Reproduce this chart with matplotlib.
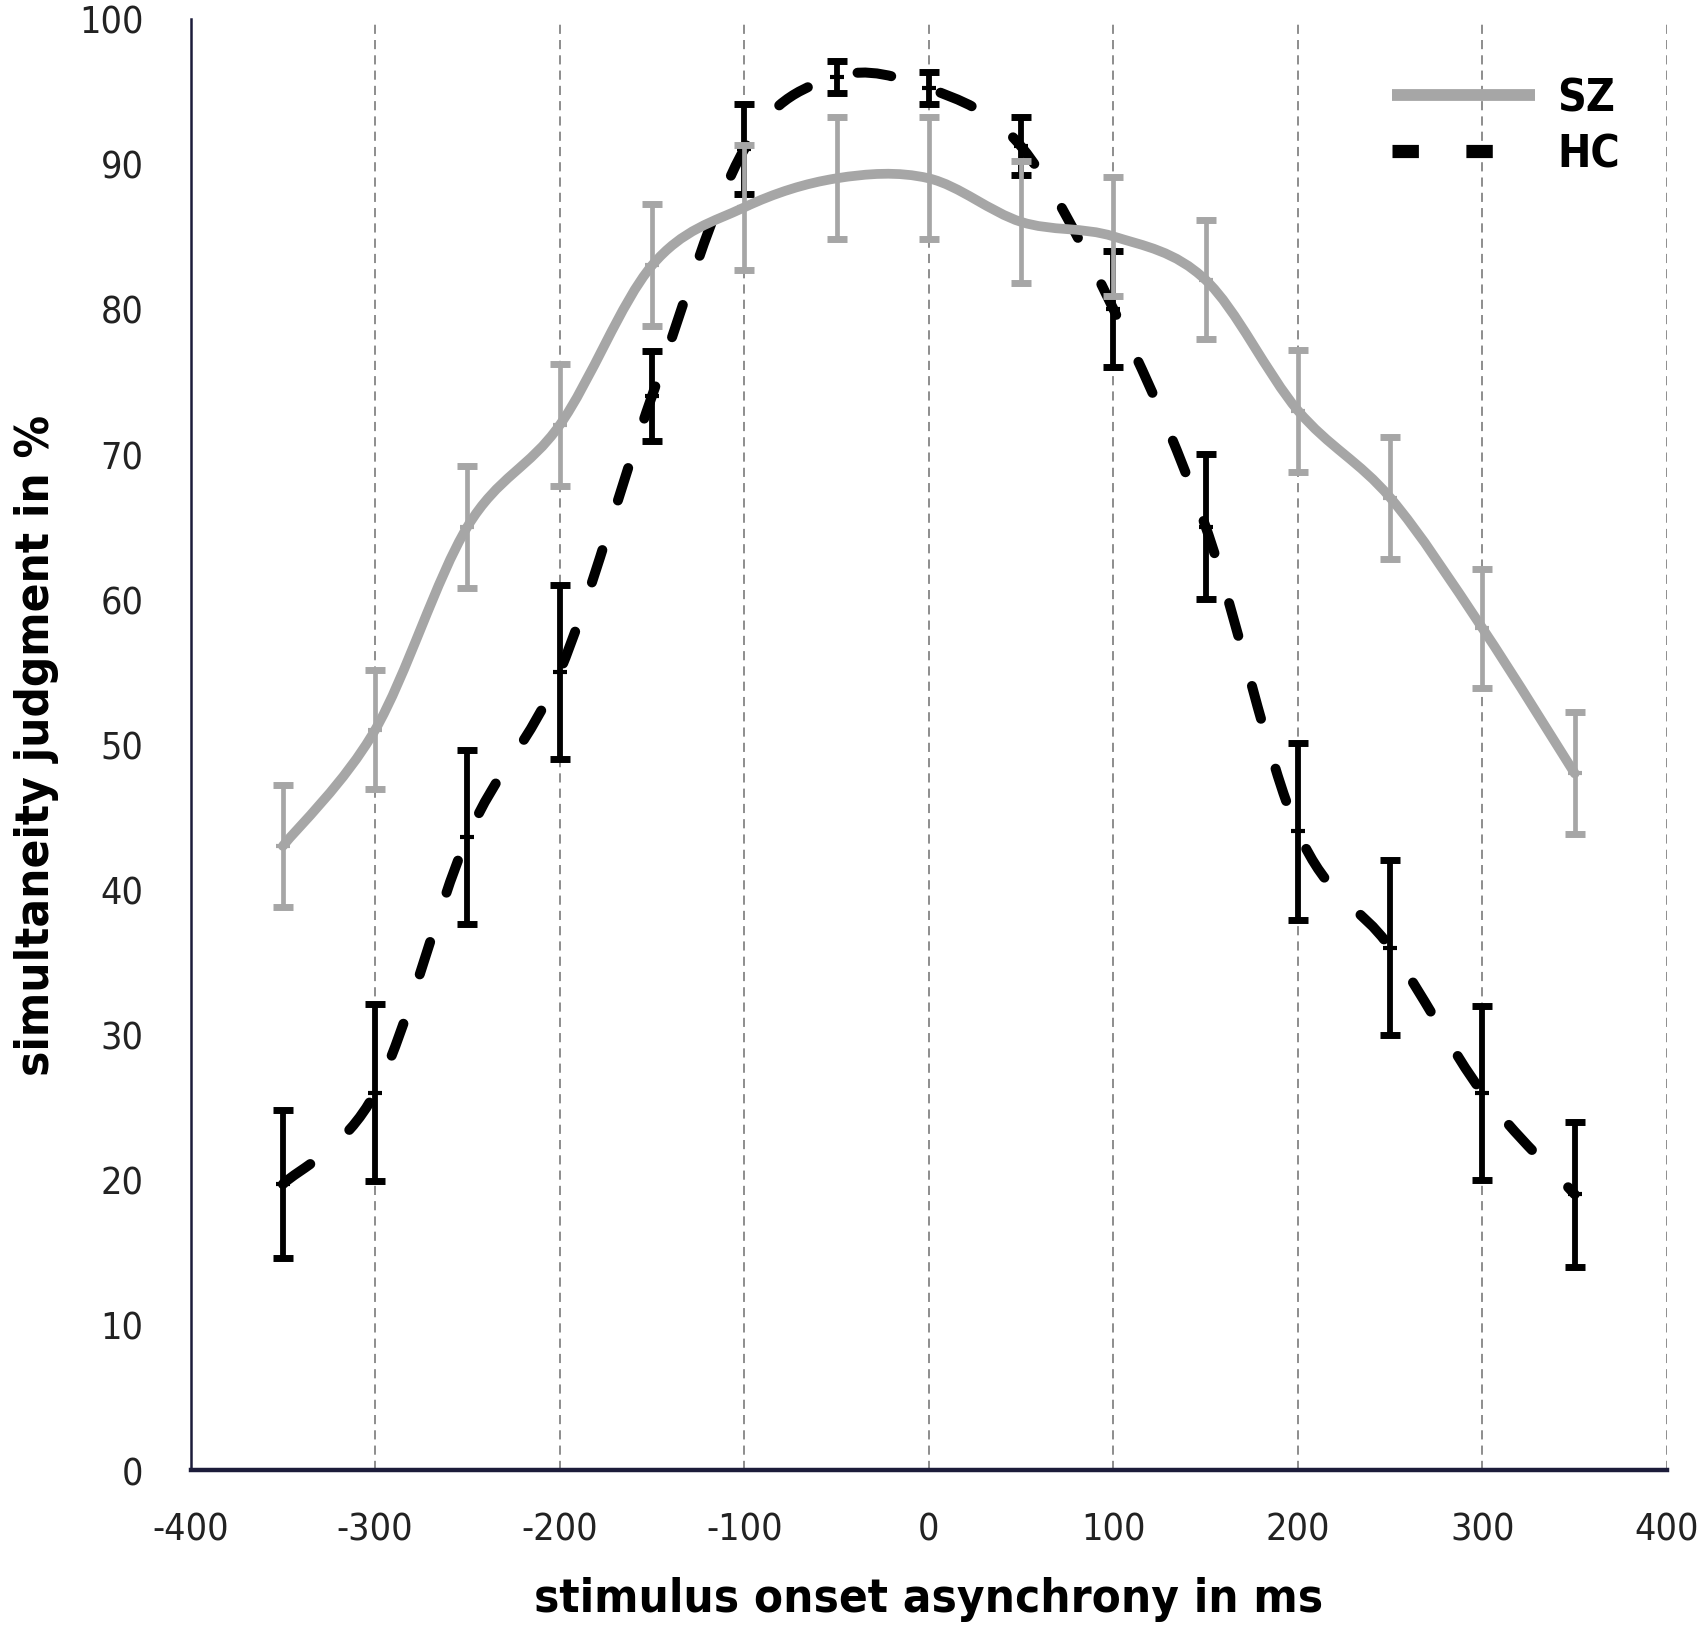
# Simultaneity judgment curves, SZ vs HC, with error bars.

import numpy as np
from matplotlib import pyplot as plt
from matplotlib.path import Path
from matplotlib.patches import PathPatch
from matplotlib.lines import Line2D
from matplotlib import font_manager as fm

soa = [-350, -300, -250, -200, -150, -100, -50, 0, 50, 100, 150, 200, 250, 300, 350]

sz_mean = [43, 51, 65, 72, 83, 87, 89, 89, 86, 85, 82, 73, 67, 58, 48]
sz_err = [4.2, 4.1, 4.2, 4.2, 4.2, 4.3, 4.2, 4.2, 4.2, 4.1, 4.1, 4.2, 4.2, 4.1, 4.2]

hc_mean = [19.7, 26, 43.6, 55, 74, 91, 96, 95.2, 91.2, 80, 65, 44, 36, 26, 19]
hc_err = [5.1, 6.1, 6.0, 6.0, 3.1, 3.1, 1.1, 1.1, 2.0, 4.0, 5.0, 6.1, 6.0, 6.0, 5.0]

xticks = [-400, -300, -200, -100, 0, 100, 200, 300, 400]
yticks = [0, 10, 20, 30, 40, 50, 60, 70, 80, 90, 100]

GRAY = "#a6a6a6"
BLACK = "#000000"

# a narrow face, closest to the condensed look of the original
names = {f.name for f in fm.fontManager.ttflist}
if "Liberation Sans Narrow" in names:
    TXT, STRETCH = ["Liberation Sans Narrow", "DejaVu Sans"], "normal"
else:
    TXT, STRETCH = ["DejaVu Sans"], "condensed"


def smooth_path(x, y):
    """Excel-like smoothed line: cubic Bezier segments through the points."""
    p = np.column_stack([x, y]).astype(float)
    n = len(p)
    verts = [p[0]]
    codes = [Path.MOVETO]
    for i in range(n - 1):
        p0 = p[i - 1] if i > 0 else p[i]
        p3 = p[i + 2] if i + 2 < n else p[i + 1]
        c1 = p[i] + (p[i + 1] - p0) / 6.0
        c2 = p[i + 1] - (p3 - p[i]) / 6.0
        verts += [c1, c2, p[i + 1]]
        codes += [Path.CURVE4] * 3
    return Path(verts, codes)


fig = plt.figure(figsize=(17.08, 16.4), dpi=100)
ax = fig.add_axes([0.1116, 0.103, 0.8644, 0.885])

# dashed vertical grid
for xv in xticks[1:]:
    ax.axvline(xv, color="#6f6f6f", lw=1.1, ls=(0, (6, 4)), zorder=0)

# HC: dashed black
hc_line = PathPatch(smooth_path(soa, hc_mean), fill=False, edgecolor=BLACK,
                    lw=7.2, linestyle=(0, (3.4, 5.2)), capstyle="round", zorder=3)
ax.add_patch(hc_line)
ax.errorbar(soa, hc_mean, yerr=hc_err, fmt="none", ecolor=BLACK, elinewidth=4.2,
            capsize=7, capthick=5, zorder=4)
ax.plot(soa, hc_mean, ls="none", marker="_", ms=10, mew=3, color=BLACK, zorder=4)

# SZ: solid gray
sz_line = PathPatch(smooth_path(soa, sz_mean), fill=False, edgecolor=GRAY,
                    lw=7, capstyle="round", joinstyle="round", zorder=5)
ax.add_patch(sz_line)
ax.errorbar(soa, sz_mean, yerr=sz_err, fmt="none", ecolor=GRAY, elinewidth=3.4,
            capsize=7, capthick=5, zorder=5)
ax.plot(soa, sz_mean, ls="none", marker="_", ms=10, mew=3, color=GRAY, zorder=5)

ax.set_xlim(-400, 400)
ax.set_ylim(0, 100)
ax.set_xticks(xticks)
ax.set_yticks(yticks)
tick_font = dict(family=TXT, stretch=STRETCH, fontsize=27)
ax.set_xticklabels([str(v) for v in xticks], **tick_font)
ax.set_yticklabels([str(v) for v in yticks], **tick_font)
ax.tick_params(length=0, colors="#222222")
ax.tick_params(axis="y", pad=34)
ax.tick_params(axis="x", pad=30)

for side in ("top", "right"):
    ax.spines[side].set_visible(False)
ax.spines["left"].set_color("#1c1c3a")
ax.spines["left"].set_linewidth(1.8)
ax.spines["bottom"].set_color("#1c1c3a")
ax.spines["bottom"].set_linewidth(3.2)

label_font = dict(family=TXT, stretch=STRETCH, fontsize=34, fontweight="bold")
ax.set_xlabel("stimulus onset asynchrony in ms", labelpad=20, **label_font)
ax.set_ylabel("simultaneity judgment in %", labelpad=14, **label_font)

handles = [
    Line2D([], [], color=GRAY, lw=8.5, solid_capstyle="butt"),
    Line2D([], [], color=BLACK, lw=9.5, ls=(0, (2.0, 3.6)), dash_capstyle="butt"),
]
leg = ax.legend(handles, ["SZ", "HC"], loc="upper right", bbox_to_anchor=(0.995, 0.988),
                frameon=False, handlelength=3.2, handletextpad=0.5, labelspacing=0.3,
                prop={"family": TXT, "stretch": STRETCH, "size": 32, "weight": "bold"})

fig.savefig("out.png", dpi=100)
